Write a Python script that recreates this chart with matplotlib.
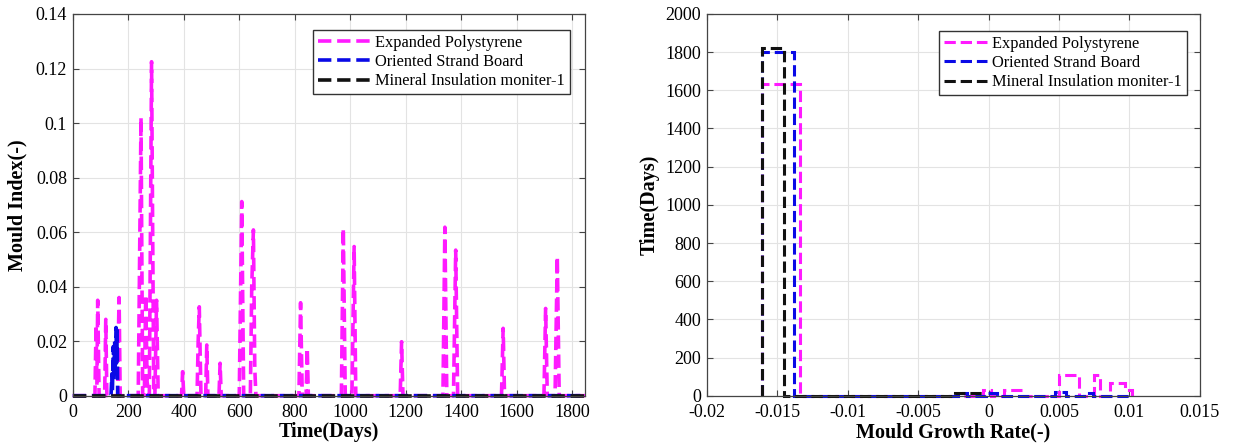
import matplotlib
matplotlib.use('Agg')
import matplotlib.pyplot as plt
from matplotlib.ticker import FuncFormatter

plt.rcParams['font.family'] = ['Liberation Serif', 'DejaVu Serif']

# ---- left panel: mould index over time ----
eps_days = [0, 80, 84, 87, 90, 95, 115, 119, 123, 162, 165, 167, 171,
            236, 246, 252, 258, 263, 268, 276, 284, 292, 296, 302, 308,
            392, 396, 400, 448, 452, 456, 462, 479, 483, 487, 527, 531, 535,
            600, 609, 616, 640, 645, 651, 656, 660,
            815, 821, 827, 841, 845, 849, 968, 975, 982, 1006, 1010, 1014, 1020,
            1180, 1185, 1190, 1334, 1341, 1348, 1372, 1380, 1387,
            1545, 1551, 1556, 1698, 1704, 1710, 1738, 1746, 1753, 1846]
eps_mould = [0, 0, 0.026, 0.004, 0.035, 0, 0, 0.028, 0, 0, 0.025, 0.036, 0,
             0, 0.102, 0, 0, 0.037, 0.005, 0, 0.1225, 0, 0, 0.035, 0,
             0, 0.0088, 0, 0, 0.02, 0.0326, 0, 0, 0.0186, 0, 0, 0.0119, 0,
             0, 0.0712, 0, 0, 0.04, 0.0608, 0.01, 0,
             0, 0.0341, 0, 0, 0.0174, 0, 0, 0.0614, 0, 0, 0.028, 0.0547, 0,
             0, 0.0198, 0, 0, 0.0618, 0, 0, 0.0534, 0,
             0, 0.0247, 0, 0, 0.032, 0, 0, 0.051, 0, 0]

osb_days = [0, 138, 141, 143, 146, 148, 151, 153, 156, 158, 160, 162, 1846]
osb_mould = [0, 0, 0.008, 0.002, 0.018, 0.006, 0.02, 0.01, 0.025, 0.012, 0.024, 0, 0]

min_days = [0, 1846]
min_mould = [0, 0]

# ---- right panel: histogram (stairs) of growth rate ----
eps_edges = [-0.0161, -0.01336, -0.0004, 0.0002, 0.0011, 0.0024, 0.0050,
             0.0064, 0.0075, 0.0079, 0.0086, 0.0097, 0.0102]
eps_counts = [1632, 0, 30, 0, 30, 0, 108, 0, 108, 0, 66, 30]

osb_edges = [-0.0161, -0.0138, -0.0022, -0.0015, -0.0002, 0.0006, 0.0047,
             0.0055, 0.0068, 0.0074, 0.0102]
osb_counts = [1800, 0, 15, 0, 12, 0, 18, 0, 15, 0]

min_edges = [-0.0161, -0.0145, -0.0024, -0.0004]
min_counts = [1822, 0, 12]

labels = ['Expanded Polystyrene', 'Oriented Strand Board', 'Mineral Insulation moniter-1']
colors = ['#ff1aff', '#0a0ae6', '#111111']

fig = plt.figure(figsize=(12.35, 4.47), dpi=100)
ax1 = fig.add_axes([0.0589, 0.1148, 0.4148, 0.8539])
ax2 = fig.add_axes([0.5722, 0.1148, 0.3994, 0.8539])

fmt = FuncFormatter(lambda v, p: '%g' % v)

ax1.plot(eps_days, eps_mould, '--', color=colors[0], lw=2.6, label=labels[0], clip_on=False)
ax1.plot(osb_days, osb_mould, '--', color=colors[1], lw=2.6, label=labels[1], clip_on=False)
ax1.plot(min_days, min_mould, '--', color=colors[2], lw=2.6, label=labels[2], clip_on=False)
ax1.set_xlim(0, 1846)
ax1.set_ylim(0, 0.14)
ax1.set_xticks(range(0, 1801, 200))
ax1.set_yticks([0, 0.02, 0.04, 0.06, 0.08, 0.1, 0.12, 0.14])
ax1.set_xlabel('Time(Days)', fontsize=14.5, fontweight='bold', labelpad=1)
ax1.set_ylabel('Mould Index(-)', fontsize=14.5, fontweight='bold', labelpad=6)
ax1.legend(loc='upper right', bbox_to_anchor=(0.970, 0.958), fontsize=11.8,
           fancybox=False, edgecolor='#333333', framealpha=1, handlelength=3.2,
           handletextpad=0.3, borderpad=0.3, labelspacing=0.2, borderaxespad=0)

for c, e, v, lab in zip(colors, [eps_edges, osb_edges, min_edges],
                        [eps_counts, osb_counts, min_counts], labels):
    ax2.stairs(v, e, baseline=0, color=c, lw=2.2, linestyle='--', label=lab, clip_on=False)
ax2.set_xlim(-0.02, 0.015)
ax2.set_ylim(0, 2000)
ax2.set_xticks([-0.02, -0.015, -0.01, -0.005, 0, 0.005, 0.01, 0.015])
ax2.set_yticks(range(0, 2001, 200))
ax2.set_xlabel('Mould Growth Rate(-)', fontsize=14.5, fontweight='bold', labelpad=1)
ax2.set_ylabel('Time(Days)', fontsize=14.5, fontweight='bold', labelpad=4)
ax2.legend(loc='upper right', bbox_to_anchor=(0.973, 0.956), fontsize=11.8,
           fancybox=False, edgecolor='#333333', framealpha=1, handlelength=2.6,
           handletextpad=0.3, borderpad=0.3, labelspacing=0.2, borderaxespad=0)

for ax in (ax1, ax2):
    ax.xaxis.set_major_formatter(fmt)
    ax.yaxis.set_major_formatter(fmt)
    ax.grid(True, color='#e3e3e3', lw=0.8)
    ax.set_axisbelow(True)
    ax.tick_params(direction='in', top=True, right=True, labelsize=13,
                   length=4, color='#444444')
    ax.tick_params(axis='x', pad=6)
    ax.tick_params(axis='y', pad=4)
    for s in ax.spines.values():
        s.set_color('#444444')
        s.set_linewidth(0.9)

fig.savefig('out.png', dpi=100)
